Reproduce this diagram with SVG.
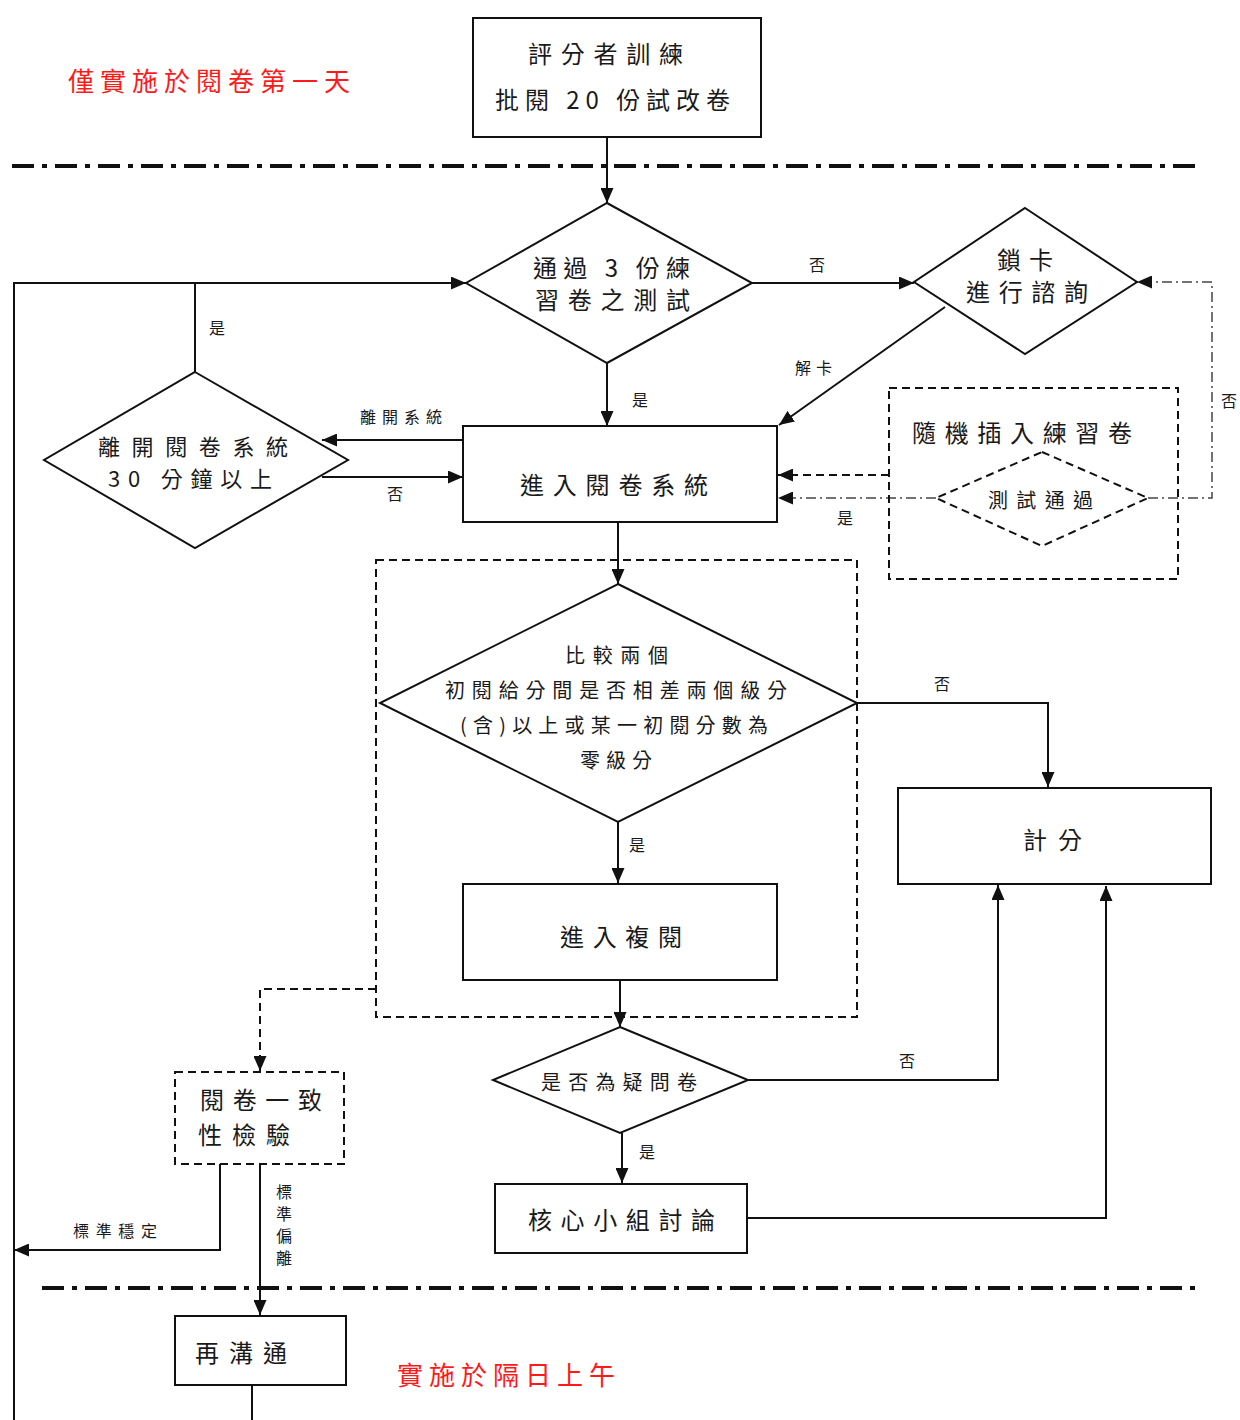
<svg xmlns="http://www.w3.org/2000/svg" width="1240" height="1420" viewBox="0 0 1240 1420">
<defs>
<marker id="ah" markerUnits="userSpaceOnUse" markerWidth="15" markerHeight="13" refX="15" refY="6.5" orient="auto">
<path d="M0,0 L15,6.5 L0,13 z" fill="#111"/>
</marker>
<style>
.t{font-family:"Noto Sans CJK TC","Noto Sans CJK SC",sans-serif;fill:#1a1a1a}
.b{font-size:24px}
.c{font-size:22px}
.m{font-size:20px}
.s{font-size:16px}
.r{font-size:26px;fill:#ff1a1a}
.box{fill:#fff;stroke:#111;stroke-width:2}
.dbox{fill:none;stroke:#111;stroke-width:2;stroke-dasharray:8 5}
.ln{fill:none;stroke:#111;stroke-width:2}
.dl{fill:none;stroke:#111;stroke-width:2;stroke-dasharray:8 5}
.dd{fill:none;stroke:#444;stroke-width:1.5;stroke-dasharray:10 4 2 4}
.sep{fill:none;stroke:#111;stroke-width:4;stroke-dasharray:22 8 5 8}
</style>
</defs>
<rect width="1240" height="1420" fill="#fff"/>

<g id="separators">
<line class="sep" x1="12" y1="166" x2="1195" y2="166"/>
<line class="sep" x1="42" y1="1288" x2="1200" y2="1288"/>
</g>

<g id="notes">
<text class="t r" x="68" y="91" textLength="282" lengthAdjust="spacing">僅實施於閱卷第一天</text>
<text class="t r" x="397" y="1385" textLength="218" lengthAdjust="spacing">實施於隔日上午</text>
</g>

<g id="connectors">
<line class="ln" x1="607" y1="137" x2="607" y2="203" marker-end="url(#ah)"/>
<line class="ln" x1="752" y1="283" x2="914" y2="283" marker-end="url(#ah)"/>
<line class="ln" x1="945" y1="307" x2="779" y2="425" marker-end="url(#ah)"/>
<line class="ln" x1="607" y1="363" x2="607" y2="426" marker-end="url(#ah)"/>
<line class="ln" x1="463" y1="440" x2="322" y2="440" marker-end="url(#ah)"/>
<line class="ln" x1="322" y1="477" x2="463" y2="477" marker-end="url(#ah)"/>
<polyline class="ln" points="14,1420 14,283 466,283" marker-end="url(#ah)"/>
<line class="ln" x1="195" y1="372" x2="195" y2="283"/>
<line class="dl" x1="889" y1="475" x2="778" y2="475" marker-end="url(#ah)"/>
<line class="dd" x1="936" y1="498" x2="778" y2="498" marker-end="url(#ah)"/>
<polyline class="dd" points="1148,498 1212,498 1212,282 1137,282" marker-end="url(#ah)"/>
<line class="ln" x1="618" y1="522" x2="618" y2="584" marker-end="url(#ah)"/>
<polyline class="ln" points="857,703 1048,703 1048,787" marker-end="url(#ah)"/>
<line class="ln" x1="618" y1="822" x2="618" y2="883" marker-end="url(#ah)"/>
<line class="ln" x1="620" y1="980" x2="620" y2="1027" marker-end="url(#ah)"/>
<polyline class="ln" points="748,1080 998,1080 998,885" marker-end="url(#ah)"/>
<line class="ln" x1="622" y1="1133" x2="622" y2="1183" marker-end="url(#ah)"/>
<polyline class="ln" points="747,1218 1106,1218 1106,886" marker-end="url(#ah)"/>
<polyline class="dl" points="376,989 260,989 260,1071" marker-end="url(#ah)"/>
<polyline class="ln" points="220,1164 220,1250 14,1250" marker-end="url(#ah)"/>
<line class="ln" x1="260" y1="1164" x2="260" y2="1315" marker-end="url(#ah)"/>
<line class="ln" x1="252" y1="1385" x2="252" y2="1420"/>
</g>

<g id="edge-labels">
<text class="t s" x="809" y="271">否</text>
<text class="t s" x="795" y="374" textLength="37" lengthAdjust="spacing">解卡</text>
<text class="t s" x="632" y="406">是</text>
<text class="t s" x="360" y="423" textLength="82" lengthAdjust="spacing">離開系統</text>
<text class="t s" x="387" y="500">否</text>
<text class="t s" x="209" y="334">是</text>
<text class="t s" x="837" y="524">是</text>
<text class="t s" x="1221" y="407">否</text>
<text class="t s" x="934" y="690">否</text>
<text class="t s" x="629" y="851">是</text>
<text class="t s" x="899" y="1067">否</text>
<text class="t s" x="639" y="1158">是</text>
<text class="t s" x="73" y="1237" textLength="84" lengthAdjust="spacing">標準穩定</text>
<text class="t s" x="276" y="1198">標</text>
<text class="t s" x="276" y="1220">準</text>
<text class="t s" x="276" y="1242">偏</text>
<text class="t s" x="276" y="1264">離</text>
</g>

<g id="training">
<rect class="box" x="473" y="18" width="288" height="119"/>
<text class="t b" x="528" y="63" textLength="155" lengthAdjust="spacing">評分者訓練</text>
<text class="t b" x="495" y="109" textLength="235" lengthAdjust="spacing">批閱 20 份試改卷</text>
</g>

<g id="practice-test">
<polygon class="box" points="607,203 752,283 607,363 466,283"/>
<text class="t b" x="533" y="277" textLength="157" lengthAdjust="spacing">通過 3 份練</text>
<text class="t b" x="535" y="309" textLength="155" lengthAdjust="spacing">習卷之測試</text>
</g>

<g id="lock">
<polygon class="box" points="1025,208 1137,282 1025,354 914,282"/>
<text class="t b" x="997" y="269" textLength="56" lengthAdjust="spacing">鎖卡</text>
<text class="t b" x="966" y="301" textLength="122" lengthAdjust="spacing">進行諮詢</text>
</g>

<g id="enter-system">
<rect class="box" x="463" y="426" width="314" height="96"/>
<text class="t b" x="520" y="494" textLength="188" lengthAdjust="spacing">進入閱卷系統</text>
</g>

<g id="leave-system">
<polygon class="box" points="195,372 348,460 195,548 44,460"/>
<text class="t c" x="98" y="455" textLength="190" lengthAdjust="spacing">離開閱卷系統</text>
<text class="t c" x="108" y="487" textLength="164" lengthAdjust="spacing">30 分鐘以上</text>
</g>

<g id="random-practice">
<rect class="dbox" x="889" y="388" width="289" height="191"/>
<text class="t b" x="912" y="442" textLength="220" lengthAdjust="spacing">隨機插入練習卷</text>
<polygon class="dbox" points="1042,452 1148,498 1042,546 936,498"/>
<text class="t m" x="988" y="508" textLength="105" lengthAdjust="spacing">測試通過</text>
</g>

<g id="review-group">
<rect class="dbox" x="376" y="560" width="481" height="457"/>
</g>

<g id="compare">
<polygon class="box" points="618,584 857,703 618,822 380,703"/>
<text class="t m" x="565" y="663" textLength="103" lengthAdjust="spacing">比較兩個</text>
<text class="t m" x="445" y="698" textLength="342" lengthAdjust="spacing">初閱給分間是否相差兩個級分</text>
<text class="t m" x="460" y="733" textLength="308" lengthAdjust="spacing">(含)以上或某一初閱分數為</text>
<text class="t m" x="580" y="768" textLength="72" lengthAdjust="spacing">零級分</text>
</g>

<g id="score">
<rect class="box" x="898" y="788" width="313" height="96"/>
<text class="t b" x="1023" y="849" textLength="59" lengthAdjust="spacing">計分</text>
</g>

<g id="re-review">
<rect class="box" x="463" y="884" width="314" height="96"/>
<text class="t b" x="560" y="946" textLength="122" lengthAdjust="spacing">進入複閱</text>
</g>

<g id="question">
<polygon class="box" points="620,1027 748,1080 620,1133 493,1080"/>
<text class="t m" x="541" y="1090" textLength="156" lengthAdjust="spacing">是否為疑問卷</text>
</g>

<g id="core-discussion">
<rect class="box" x="495" y="1184" width="252" height="69"/>
<text class="t b" x="528" y="1229" textLength="187" lengthAdjust="spacing">核心小組討論</text>
</g>

<g id="consistency">
<rect class="dbox" x="175" y="1072" width="169" height="92" fill="#fff"/>
<text class="t b" x="200" y="1109" textLength="122" lengthAdjust="spacing">閱卷一致</text>
<text class="t b" x="198" y="1144" textLength="92" lengthAdjust="spacing">性檢驗</text>
</g>

<g id="recommunicate">
<rect class="box" x="175" y="1316" width="171" height="69"/>
<text class="t b" x="195" y="1362" textLength="92" lengthAdjust="spacing">再溝通</text>
</g>
</svg>
